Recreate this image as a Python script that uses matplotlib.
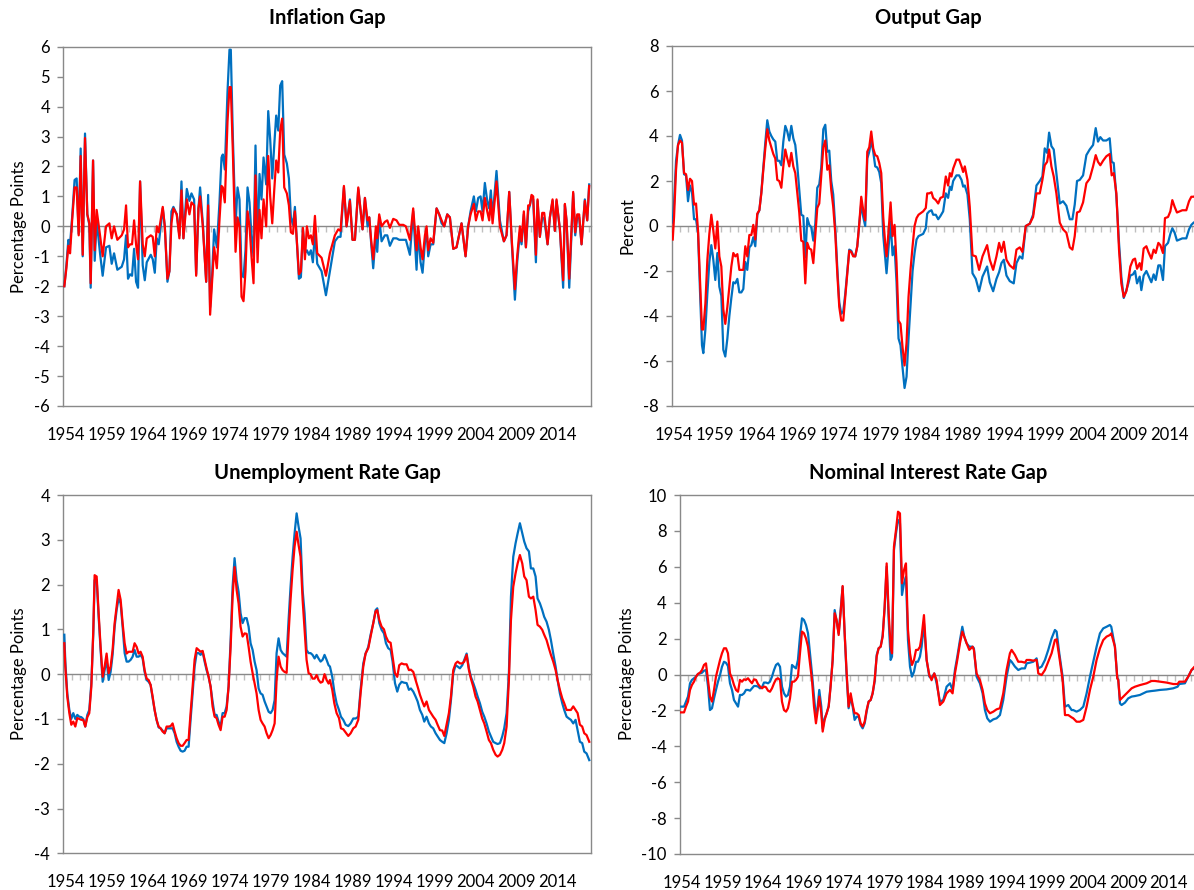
import matplotlib
matplotlib.use("Agg")
import matplotlib.pyplot as plt

plt.rcParams['font.family'] = ['Lato', 'DejaVu Sans']
plt.rcParams['axes.unicode_minus'] = False

# ---- data (dates in fractional years) ----
infl_t = [1954.00, 1954.25, 1954.49, 1954.70, 1954.95, 1955.25, 1955.50, 1955.75, 1955.99, 1956.24,
          1956.52, 1956.80, 1957.05, 1957.21, 1957.50, 1957.70, 1957.94, 1958.35, 1958.67, 1959.08,
          1959.49, 1959.77, 1960.06, 1960.46, 1960.99, 1961.28, 1961.52, 1961.76, 1962.01, 1962.25,
          1962.50, 1962.74, 1962.98, 1963.23, 1963.55, 1963.80, 1964.04, 1964.53, 1964.77, 1965.02,
          1965.26, 1965.50, 1965.99, 1966.24, 1966.56, 1966.80, 1967.05, 1967.29, 1967.70, 1968.02,
          1968.27, 1968.51, 1968.92, 1969.24, 1969.49, 1969.81, 1970.06, 1970.34, 1970.54, 1970.87,
          1971.28, 1971.52, 1971.76, 1972.01, 1972.25, 1972.58, 1972.90, 1973.15, 1973.31, 1973.55,
          1973.88, 1974.12, 1974.28, 1974.53, 1974.86, 1975.10, 1975.34, 1975.59, 1975.83, 1976.07,
          1976.32, 1976.56, 1976.80, 1977.05, 1977.29, 1977.54, 1977.78, 1978.02, 1978.27, 1978.59,
          1978.84, 1979.08, 1979.33, 1979.57, 1979.81, 1980.06, 1980.30, 1980.54, 1980.79, 1981.11,
          1981.36, 1981.60, 1981.85, 1982.09, 1982.33, 1982.58, 1982.82, 1983.07, 1983.31, 1983.55,
          1983.80, 1984.04, 1984.28, 1984.53, 1984.81, 1985.34, 1985.87, 1986.35, 1986.96, 1987.37,
          1987.65, 1988.06, 1988.38, 1988.79, 1989.11, 1989.40, 1989.81, 1990.33, 1990.62, 1990.94,
          1991.15, 1991.39, 1991.63, 1991.96, 1992.12, 1992.36, 1992.65, 1993.05, 1993.34, 1993.66,
          1994.07, 1994.47, 1994.80, 1995.29, 1995.61, 1996.10, 1996.50, 1996.91, 1997.11, 1997.40,
          1997.64, 1997.93, 1998.13, 1998.33, 1998.62, 1998.94, 1999.35, 1999.67, 1999.96, 2000.28,
          2000.65, 2000.97, 2001.38, 2001.78, 2002.39, 2002.88, 2003.20, 2003.49, 2003.89, 2004.14,
          2004.42, 2004.71, 2004.95, 2005.23, 2005.52, 2005.76, 2005.96, 2006.17, 2006.65, 2007.06,
          2007.55, 2007.87, 2008.20, 2008.52, 2008.89, 2009.17, 2009.50, 2009.70, 2009.98, 2010.23,
          2010.51, 2010.71, 2010.92, 2011.12, 2011.45, 2011.65, 2011.93, 2012.22, 2012.46, 2012.87,
          2013.15, 2013.48, 2013.76, 2013.96, 2014.37, 2014.77, 2014.98, 2015.18, 2015.51, 2015.99,
          2016.24, 2016.48, 2016.72, 2017.01, 2017.41, 2017.70, 2017.94]
infl_red = [-2.00, -1.40, -0.65, -0.90, 0.20, 1.30, 1.30, -0.30, 2.35, -0.95,
            2.95, 0.40, 0.10, -1.90, 2.20, -0.80, 0.55, -0.30, -1.00, 0.00,
            0.10, -0.40, 0.00, -0.45, -0.30, -0.10, 0.70, -0.70, -0.60, -0.60,
            0.20, -0.60, -1.10, 1.50, -0.60, -1.00, -0.40, -0.30, -0.35, -1.00,
            0.00, -0.20, 0.65, 0.00, -1.75, -1.50, 0.10, 0.60, 0.40, -0.40,
            1.20, -0.40, 0.90, 0.40, 0.80, 0.70, -1.65, 0.60, 1.00, 0.00,
            -1.85, 0.70, -2.95, -1.80, -0.70, -1.40, 0.20, 1.35, 1.30, 0.80,
            3.50, 4.65, 4.65, 2.50, -0.85, 0.30, 0.00, -2.35, -2.50, -1.50,
            0.50, 0.00, -1.00, -1.90, 1.70, -1.20, 0.55, -0.40, 0.90, 0.00,
            2.35, 1.00, 0.10, 1.20, 2.20, 1.80, 3.20, 3.60, 1.30, 1.10,
            0.70, -0.20, -0.25, 0.50, -0.50, -1.60, -1.50, -0.05, -1.10, 0.00,
            -0.40, -0.30, -0.60, 0.35, -0.90, -1.05, -1.65, -0.90, -0.30, -0.10,
            -0.15, 1.35, 0.00, 0.85, -0.45, -0.45, 1.30, -0.10, 0.95, 0.20,
            0.30, -0.50, -1.10, 0.00, -0.40, 0.40, 0.00, 0.15, 0.20, -0.05,
            0.25, 0.20, 0.05, 0.05, 0.00, -0.45, 0.60, -0.80, 0.00, -0.70,
            -1.10, -0.30, 0.00, -0.80, -0.40, -0.55, 0.60, 0.40, 0.20, 0.00,
            0.40, 0.30, -0.75, -0.70, 0.10, -1.00, 0.00, 0.40, 0.75, 0.20,
            0.50, 0.50, 0.20, 0.95, 0.50, 0.20, 0.90, 0.10, 1.50, 0.00,
            -0.50, -0.30, 1.15, -0.50, -2.10, -1.00, 0.00, -0.50, 0.50, -0.70,
            0.70, 0.70, 1.05, 1.00, -0.95, 0.90, -0.35, 0.45, 0.45, -0.60,
            0.30, 0.90, -0.15, 0.90, -0.10, -1.80, 0.75, 0.20, -1.75, 1.15,
            -0.20, 0.40, 0.40, -0.60, 0.85, 0.20, 1.35]
infl_blue = [-2.00, -1.30, -0.45, -0.60, 0.30, 1.55, 1.60, -0.25, 2.60, -1.00,
             3.10, 0.40, 0.05, -2.05, 2.20, -1.15, 0.20, -0.90, -1.65, -0.70,
             -0.65, -1.25, -0.90, -1.45, -1.35, -1.10, -0.30, -1.75, -1.60, -1.65,
             -0.75, -1.85, -2.05, 1.50, -1.30, -1.80, -1.20, -0.95, -1.10, -1.55,
             -0.40, -0.60, 0.60, 0.00, -1.85, -1.50, 0.50, 0.65, 0.40, -0.30,
             1.50, -0.40, 1.25, 0.85, 1.10, 0.90, -1.60, 0.60, 1.30, 0.10,
             -1.85, 1.05, -2.70, -1.60, -0.10, -0.70, 0.80, 2.30, 2.40, 1.90,
             4.50, 5.90, 5.90, 3.00, 0.00, 1.30, 0.90, -1.60, -1.70, -0.80,
             1.30, 0.80, -0.30, -1.00, 2.70, -0.70, 1.75, 0.90, 2.30, 1.40,
             3.85, 2.90, 1.60, 2.70, 3.70, 3.20, 4.70, 4.85, 2.40, 2.10,
             1.60, 0.30, 0.05, 0.65, -0.50, -1.75, -1.70, -0.10, -0.90, -0.80,
             -0.95, -0.80, -1.20, -0.20, -1.25, -1.50, -2.30, -1.50, -0.50, -0.35,
             -0.35, 1.30, 0.00, 0.90, -0.45, -0.45, 1.25, -0.10, 0.95, 0.00,
             0.30, -0.60, -1.40, -0.20, -0.85, 0.30, -0.50, -0.30, -0.30, -0.65,
             -0.40, -0.40, -0.45, -0.45, -0.45, -0.95, 0.50, -1.45, -0.15, -1.20,
             -1.55, -0.55, -0.10, -1.00, -0.60, -0.60, 0.60, 0.40, 0.10, 0.00,
             0.40, 0.30, -0.75, -0.70, 0.10, -1.00, 0.00, 0.50, 1.00, 0.50,
             0.95, 1.00, 0.50, 1.45, 0.85, 0.60, 1.20, 0.30, 1.85, 0.20,
             -0.50, -0.30, 1.15, -0.60, -2.45, -1.20, -0.20, -0.60, 0.40, -0.70,
             0.50, 0.70, 1.00, 0.90, -1.20, 0.85, -0.35, 0.30, 0.25, -0.60,
             0.30, 0.85, -0.15, 0.85, -0.10, -2.05, 0.70, 0.20, -2.05, 1.10,
             -0.30, 0.30, 0.30, -0.60, 0.90, 0.20, 1.40]

out_t = [1954.00, 1954.16, 1954.40, 1954.64, 1954.88, 1955.12, 1955.37, 1955.61, 1955.85, 1956.09,
         1956.33, 1956.58, 1956.82, 1957.06, 1957.30, 1957.54, 1957.70, 1957.95, 1958.19, 1958.43,
         1958.67, 1958.91, 1959.15, 1959.40, 1959.64, 1959.88, 1960.12, 1960.36, 1960.61, 1960.85,
         1961.09, 1961.33, 1961.57, 1961.82, 1962.06, 1962.30, 1962.54, 1962.78, 1963.02, 1963.27,
         1963.51, 1963.75, 1963.99, 1964.23, 1964.48, 1964.72, 1964.96, 1965.20, 1965.44, 1965.69,
         1965.93, 1966.17, 1966.41, 1966.65, 1966.89, 1967.14, 1967.38, 1967.62, 1967.86, 1968.10,
         1968.35, 1968.59, 1968.83, 1969.07, 1969.31, 1969.55, 1969.80, 1970.04, 1970.28, 1970.52,
         1970.76, 1971.01, 1971.25, 1971.49, 1971.73, 1971.97, 1972.22, 1972.46, 1972.70, 1972.94,
         1973.18, 1973.42, 1973.67, 1973.91, 1974.15, 1974.39, 1974.63, 1974.88, 1975.12, 1975.36,
         1975.60, 1975.84, 1976.08, 1976.33, 1976.57, 1976.81, 1977.05, 1977.29, 1977.54, 1977.78,
         1978.02, 1978.26, 1978.50, 1978.75, 1978.99, 1979.23, 1979.47, 1979.71, 1979.87, 1980.12,
         1980.36, 1980.60, 1980.84, 1981.08, 1981.32, 1981.56, 1981.81, 1982.05, 1982.29, 1982.53,
         1982.77, 1983.02, 1983.26, 1983.50, 1983.74, 1984.30, 1984.62, 1984.79, 1985.03, 1985.31,
         1985.51, 1985.83, 1986.12, 1986.40, 1986.72, 1987.04, 1987.32, 1987.53, 1987.73, 1987.93,
         1988.33, 1988.65, 1988.94, 1989.14, 1989.34, 1989.66, 1989.94, 1990.27, 1990.67, 1991.07,
         1991.48, 1992.04, 1992.36, 1992.77, 1993.17, 1993.49, 1993.77, 1994.06, 1994.38, 1994.78,
         1995.26, 1995.59, 1995.99, 1996.31, 1996.72, 1997.20, 1997.60, 1998.01, 1998.41, 1998.73,
         1999.01, 1999.30, 1999.54, 1999.82, 2000.10, 2000.42, 2000.83, 2001.23, 2001.63, 2002.04,
         2002.36, 2002.64, 2002.92, 2003.25, 2003.65, 2004.05, 2004.45, 2004.86, 2005.18, 2005.46,
         2005.74, 2006.07, 2006.47, 2006.87, 2007.11, 2007.36, 2007.68, 2008.00, 2008.28, 2008.57,
         2008.89, 2009.13, 2009.37, 2009.69, 2009.94, 2010.18, 2010.50, 2010.70, 2010.98, 2011.31,
         2011.55, 2011.91, 2012.19, 2012.44, 2012.76, 2013.00, 2013.32, 2013.56, 2013.93, 2014.21,
         2014.45, 2014.73, 2015.01, 2015.34, 2015.66, 2016.14, 2016.47, 2016.75, 2017.03, 2017.25]
out_red = [-0.60, 0.40, 2.50, 3.60, 3.80, 3.70, 2.35, 2.30, 1.60, 2.10,
           2.00, 0.95, 1.00, -0.20, -2.40, -4.60, -4.60, -3.45, -1.50, -0.35,
           0.50, -0.20, -1.00, 0.20, -1.35, -1.80, -3.70, -4.35, -3.60, -2.70,
           -1.80, -1.20, -1.35, -1.25, -1.95, -1.95, -1.95, -0.90, -1.35, -0.40,
           -0.40, 0.05, -0.60, 0.55, 0.70, 1.45, 2.50, 3.45, 4.30, 3.80,
           3.50, 3.20, 3.00, 2.05, 2.00, 1.70, 2.65, 3.40, 3.00, 2.65,
           3.25, 2.65, 2.35, 1.45, 0.60, -0.65, -0.70, -2.55, -0.75, -1.00,
           -1.05, -1.65, -0.45, 0.80, 1.00, 2.20, 3.50, 3.80, 2.50, 2.70,
           1.60, 0.85, -0.35, -2.10, -3.60, -4.20, -4.20, -3.15, -2.10, -1.10,
           -1.15, -1.35, -1.35, -0.90, 0.10, 1.30, 0.70, 0.25, 3.30, 3.50,
           4.20, 3.45, 3.15, 3.10, 2.80, 2.35, 0.40, -0.80, -1.35, -0.20,
           1.05, -0.45, 0.05, -1.65, -4.20, -4.35, -5.40, -6.20, -5.20, -3.15,
           -1.95, -0.90, 0.00, 0.35, 0.50, 0.65, 0.80, 1.45, 1.45, 1.50,
           1.25, 1.15, 1.00, 1.25, 1.30, 2.20, 1.80, 2.35, 2.20, 2.55,
           2.95, 2.95, 2.65, 2.40, 2.65, 2.05, 0.85, -1.30, -1.35, -1.95,
           -1.35, -0.85, -1.50, -1.95, -1.35, -0.75, -1.15, -0.70, -1.50, -1.75,
           -1.90, -1.05, -0.95, -1.15, 0.00, 0.10, 0.40, 1.45, 1.45, 2.05,
           2.70, 2.85, 3.40, 2.65, 2.20, 1.45, 0.15, -0.15, -0.30, -0.95,
           -1.05, -0.45, 0.60, 0.65, 1.05, 1.90, 2.10, 2.65, 3.15, 2.85,
           2.70, 2.90, 3.10, 3.20, 2.25, 2.35, 1.45, -1.05, -2.55, -3.15,
           -2.90, -2.40, -1.80, -1.50, -1.45, -1.90, -1.65, -1.95, -1.00, -0.90,
           -1.15, -1.45, -1.05, -1.20, -0.75, -0.85, -1.20, 0.35, 0.40, 0.65,
           1.15, 0.85, 0.60, 0.65, 0.70, 0.70, 1.10, 1.30, 1.30, 1.35]
out_blue = [0.15, 1.00, 2.90, 3.60, 4.05, 3.80, 2.30, 2.25, 1.10, 1.80,
            1.50, 0.30, 0.30, -0.30, -2.90, -5.30, -5.65, -4.60, -3.00, -1.60,
            -0.85, -1.50, -2.40, -1.20, -2.70, -3.10, -5.50, -5.80, -5.00, -4.00,
            -3.20, -2.50, -2.55, -2.35, -2.95, -2.95, -2.80, -1.60, -1.95, -0.95,
            -0.85, -0.50, -0.90, 0.50, 0.70, 1.50, 2.60, 3.70, 4.70, 4.20,
            4.00, 3.85, 3.75, 2.90, 2.90, 2.70, 3.75, 4.45, 4.20, 3.80,
            4.45, 3.90, 3.60, 2.70, 1.60, 0.50, 0.45, -1.40, 0.35, 0.05,
            -0.05, -0.65, 0.10, 1.70, 1.85, 2.60, 4.30, 4.50, 3.30, 3.35,
            2.00, 1.40, -0.10, -1.85, -3.40, -3.90, -3.80, -3.00, -2.00, -1.05,
            -1.10, -1.30, -1.35, -0.90, 0.10, 1.00, 0.40, 0.00, 3.00, 3.30,
            3.80, 3.30, 2.65, 2.60, 2.40, 1.90, -0.40, -1.45, -2.10, -0.90,
            0.20, -1.30, -0.90, -2.50, -5.00, -5.30, -6.30, -7.20, -6.70, -5.00,
            -3.50, -2.00, -1.20, -0.60, -0.45, -0.35, -0.10, 0.55, 0.65, 0.70,
            0.50, 0.50, 0.30, 0.45, 0.65, 1.45, 1.25, 1.75, 1.60, 2.00,
            2.25, 2.25, 2.05, 1.75, 1.80, 1.40, 0.30, -2.10, -2.35, -2.90,
            -2.25, -1.80, -2.50, -2.90, -2.35, -2.05, -1.65, -1.50, -2.20, -2.45,
            -2.55, -1.65, -1.35, -1.45, 0.00, 0.10, 0.50, 1.80, 2.00, 2.20,
            3.45, 3.25, 4.15, 3.55, 3.40, 2.35, 1.00, 1.10, 0.90, 0.30,
            0.30, 0.95, 2.00, 2.05, 2.25, 3.15, 3.40, 3.60, 4.35, 3.75,
            3.95, 3.80, 3.80, 3.90, 2.85, 2.80, 1.30, -0.75, -2.25, -3.20,
            -2.85, -2.55, -2.20, -2.15, -2.00, -2.55, -2.25, -2.85, -2.20, -2.00,
            -2.20, -2.50, -2.15, -2.40, -1.75, -1.75, -2.40, -0.90, -0.75, -0.35,
            -0.10, -0.30, -0.65, -0.60, -0.55, -0.55, -0.15, 0.05, 0.15, 0.20]

unemp_t = [1954.00, 1954.12, 1954.36, 1954.61, 1954.85, 1955.09, 1955.34, 1955.58, 1955.82, 1956.07,
           1956.31, 1956.55, 1956.80, 1957.04, 1957.29, 1957.53, 1957.69, 1957.94, 1958.18, 1958.42,
           1958.67, 1958.91, 1959.15, 1959.40, 1959.64, 1959.88, 1960.13, 1960.37, 1960.61, 1960.86,
           1961.10, 1961.35, 1961.59, 1961.83, 1962.08, 1962.32, 1962.56, 1962.81, 1963.05, 1963.29,
           1963.54, 1963.78, 1964.03, 1964.27, 1964.51, 1964.76, 1965.00, 1965.24, 1965.49, 1965.73,
           1965.97, 1966.22, 1966.46, 1966.70, 1966.95, 1967.19, 1967.44, 1967.68, 1967.92, 1968.17,
           1968.41, 1968.65, 1968.90, 1969.14, 1969.38, 1969.63, 1969.87, 1970.12, 1970.36, 1970.60,
           1970.85, 1971.09, 1971.33, 1971.58, 1971.82, 1972.06, 1972.31, 1972.55, 1972.79, 1973.04,
           1973.28, 1973.53, 1973.77, 1974.01, 1974.26, 1974.50, 1974.74, 1974.99, 1975.23, 1975.47,
           1975.72, 1975.96, 1976.21, 1976.45, 1976.69, 1976.94, 1977.18, 1977.42, 1977.67, 1977.91,
           1978.15, 1978.40, 1978.64, 1978.89, 1979.13, 1979.37, 1979.62, 1979.86, 1980.10, 1980.35,
           1980.59, 1980.83, 1981.08, 1981.32, 1981.56, 1981.81, 1982.05, 1982.30, 1982.54, 1982.78,
           1983.03, 1983.27, 1983.51, 1983.76, 1984.00, 1984.24, 1984.49, 1984.73, 1984.97, 1985.22,
           1985.46, 1985.70, 1985.95, 1986.19, 1986.36, 1986.64, 1986.89, 1987.17, 1987.46, 1987.70,
           1987.98, 1988.27, 1988.59, 1988.88, 1989.20, 1989.49, 1989.81, 1990.09, 1990.42, 1990.70,
           1991.03, 1991.31, 1991.64, 1991.92, 1992.12, 1992.37, 1992.65, 1992.94, 1993.18, 1993.46,
           1993.75, 1993.99, 1994.28, 1994.56, 1994.80, 1995.09, 1995.37, 1995.70, 1995.98, 1996.22,
           1996.51, 1996.79, 1997.04, 1997.32, 1997.61, 1997.85, 1998.13, 1998.42, 1998.66, 1998.94,
           1999.23, 1999.47, 1999.76, 2000.04, 2000.29, 2000.57, 2000.85, 2001.10, 2001.38, 2001.67,
           2001.91, 2002.19, 2002.48, 2002.72, 2003.01, 2003.29, 2003.53, 2003.82, 2004.10, 2004.35,
           2004.63, 2004.91, 2005.16, 2005.44, 2005.72, 2005.97, 2006.25, 2006.54, 2006.78, 2007.07,
           2007.35, 2007.59, 2007.88, 2008.16, 2008.41, 2008.69, 2008.97, 2009.22, 2009.50, 2009.79,
           2010.03, 2010.31, 2010.60, 2010.84, 2011.13, 2011.41, 2011.65, 2011.94, 2012.22, 2012.46,
           2012.75, 2013.03, 2013.28, 2013.56, 2013.85, 2014.09, 2014.37, 2014.66, 2014.90, 2015.19,
           2015.47, 2015.71, 2016.00, 2016.28, 2016.53, 2016.81, 2017.09, 2017.34, 2017.62, 2017.95]
unemp_red = [0.69, 0.17, -0.50, -0.87, -1.13, -1.06, -1.17, -0.98, -1.00, -1.02,
             -1.02, -1.17, -0.96, -0.87, -0.28, 0.99, 2.21, 2.18, 1.36, 0.61,
             -0.06, 0.17, 0.46, 0.02, 0.17, 0.54, 1.14, 1.51, 1.88, 1.66,
             1.14, 0.69, 0.46, 0.50, 0.50, 0.50, 0.69, 0.61, 0.46, 0.50,
             0.39, 0.09, -0.10, -0.13, -0.24, -0.50, -0.80, -1.02, -1.17, -1.21,
             -1.28, -1.32, -1.17, -1.17, -1.16, -1.10, -1.28, -1.43, -1.54, -1.60,
             -1.60, -1.54, -1.47, -1.47, -0.87, -0.28, 0.32, 0.58, 0.54, 0.50,
             0.52, 0.32, 0.13, -0.06, -0.28, -0.72, -0.95, -0.98, -1.13, -1.25,
             -0.95, -0.95, -0.80, -0.28, 0.61, 1.73, 2.39, 1.88, 1.58, 1.06,
             0.84, 0.91, 0.90, 0.61, 0.28, 0.02, -0.20, -0.43, -0.80, -1.02,
             -1.10, -1.17, -1.32, -1.43, -1.36, -1.25, -1.10, -0.13, 0.39, 0.17,
             0.09, 0.05, 0.03, 0.91, 1.66, 2.33, 2.85, 3.18, 2.88, 2.62,
             1.66, 0.99, 0.32, 0.02, 0.00, -0.10, -0.10, -0.02, -0.13, -0.19,
             -0.17, 0.00, -0.13, -0.21, -0.13, -0.35, -0.65, -0.87, -0.98, -1.21,
             -1.23, -1.30, -1.38, -1.32, -1.21, -1.17, -1.02, -0.43, 0.17, 0.46,
             0.58, 0.84, 1.14, 1.40, 1.43, 1.21, 1.06, 1.00, 0.84, 0.73,
             0.70, 0.39, 0.02, -0.06, 0.20, 0.24, 0.22, 0.22, 0.09, 0.10,
             0.05, -0.13, -0.28, -0.46, -0.61, -0.72, -0.61, -0.80, -0.87, -0.95,
             -1.02, -1.13, -1.25, -1.26, -1.38, -1.13, -0.87, -0.50, 0.09, 0.24,
             0.28, 0.24, 0.24, 0.28, 0.43, 0.09, -0.10, -0.28, -0.50, -0.61,
             -0.80, -0.99, -1.10, -1.28, -1.47, -1.54, -1.69, -1.80, -1.84, -1.80,
             -1.69, -1.54, -1.17, -0.13, 1.21, 1.95, 2.25, 2.47, 2.66, 2.47,
             2.18, 2.10, 1.73, 1.69, 1.73, 1.43, 1.10, 1.06, 0.99, 0.88,
             0.76, 0.58, 0.43, 0.28, 0.09, -0.13, -0.35, -0.54, -0.65, -0.80,
             -0.80, -0.80, -0.72, -0.80, -0.87, -1.13, -1.17, -1.32, -1.36, -1.51]
unemp_blue = [0.88, 0.28, -0.43, -0.80, -1.00, -0.87, -1.00, -0.91, -0.95, -0.96,
              -1.00, -1.17, -0.91, -0.80, -0.20, 0.91, 2.10, 2.10, 1.28, 0.54,
              -0.17, 0.09, 0.32, -0.13, 0.05, 0.43, 1.06, 1.43, 1.69, 1.58,
              1.06, 0.47, 0.28, 0.28, 0.32, 0.39, 0.54, 0.39, 0.39, 0.43,
              0.35, 0.05, -0.13, -0.17, -0.24, -0.54, -0.80, -1.02, -1.19, -1.21,
              -1.26, -1.32, -1.21, -1.21, -1.21, -1.21, -1.32, -1.51, -1.62, -1.71,
              -1.73, -1.71, -1.62, -1.62, -1.02, -0.43, 0.17, 0.47, 0.47, 0.43,
              0.50, 0.28, 0.09, -0.06, -0.28, -0.61, -0.91, -0.91, -1.06, -1.17,
              -0.87, -0.87, -0.72, -0.28, 0.76, 1.95, 2.59, 2.10, 1.84, 1.36,
              1.14, 1.25, 1.25, 1.06, 0.69, 0.54, 0.28, 0.09, -0.32, -0.43,
              -0.46, -0.61, -0.72, -0.84, -0.87, -0.80, -0.58, 0.47, 0.80, 0.54,
              0.47, 0.43, 0.39, 1.21, 1.95, 2.62, 3.14, 3.59, 3.29, 3.03,
              1.88, 1.36, 0.54, 0.47, 0.47, 0.43, 0.35, 0.43, 0.35, 0.28,
              0.32, 0.43, 0.32, 0.20, 0.17, -0.06, -0.39, -0.65, -0.80, -0.95,
              -1.02, -1.13, -1.16, -1.10, -0.99, -0.99, -0.95, -0.35, 0.24, 0.46,
              0.61, 0.88, 1.14, 1.43, 1.47, 1.14, 0.99, 0.91, 0.69, 0.58,
              0.54, 0.28, -0.20, -0.39, -0.24, -0.17, -0.19, -0.20, -0.35, -0.32,
              -0.39, -0.50, -0.61, -0.80, -0.91, -1.06, -0.95, -1.10, -1.17, -1.21,
              -1.32, -1.39, -1.47, -1.51, -1.54, -1.32, -1.02, -0.58, 0.02, 0.20,
              0.17, 0.13, 0.20, 0.32, 0.46, 0.13, -0.06, -0.20, -0.35, -0.50,
              -0.65, -0.84, -0.95, -1.10, -1.28, -1.39, -1.51, -1.54, -1.56, -1.54,
              -1.39, -1.21, -0.87, 0.02, 1.73, 2.62, 2.92, 3.14, 3.37, 3.14,
              2.96, 2.81, 2.74, 2.36, 2.36, 2.18, 1.69, 1.58, 1.43, 1.28,
              1.17, 0.99, 0.76, 0.46, 0.17, -0.13, -0.43, -0.65, -0.80, -0.95,
              -0.99, -1.02, -1.10, -1.02, -1.25, -1.51, -1.54, -1.73, -1.77, -1.92]

rate_t = [1954.00, 1954.37, 1954.61, 1954.86, 1955.11, 1955.35, 1955.60, 1955.85, 1956.09, 1956.34,
          1956.59, 1956.83, 1957.08, 1957.33, 1957.57, 1957.82, 1958.07, 1958.31, 1958.56, 1958.81,
          1959.05, 1959.30, 1959.55, 1959.79, 1960.04, 1960.29, 1960.53, 1960.78, 1961.03, 1961.27,
          1961.52, 1961.77, 1962.01, 1962.26, 1962.51, 1962.75, 1963.00, 1963.25, 1963.49, 1963.74,
          1963.99, 1964.23, 1964.48, 1964.73, 1964.97, 1965.22, 1965.47, 1965.71, 1965.96, 1966.21,
          1966.45, 1966.70, 1966.95, 1967.19, 1967.44, 1967.69, 1967.93, 1968.18, 1968.42, 1968.67,
          1968.92, 1969.16, 1969.41, 1969.66, 1969.90, 1970.15, 1970.40, 1970.64, 1970.81, 1971.05,
          1971.30, 1971.47, 1971.71, 1971.96, 1972.21, 1972.45, 1972.70, 1972.95, 1973.19, 1973.44,
          1973.68, 1973.93, 1974.18, 1974.43, 1974.67, 1974.92, 1975.17, 1975.41, 1975.66, 1975.91,
          1976.15, 1976.40, 1976.65, 1976.89, 1977.14, 1977.39, 1977.63, 1977.88, 1978.13, 1978.37,
          1978.62, 1978.87, 1979.11, 1979.36, 1979.61, 1979.85, 1980.02, 1980.26, 1980.51, 1980.76,
          1981.00, 1981.25, 1981.50, 1981.74, 1981.99, 1982.24, 1982.48, 1982.73, 1982.98, 1983.22,
          1983.47, 1983.67, 1983.96, 1984.29, 1984.62, 1984.90, 1985.23, 1985.52, 1985.93, 1986.34,
          1986.75, 1987.17, 1987.49, 1987.78, 1988.07, 1988.40, 1988.69, 1988.93, 1989.22, 1989.55,
          1989.96, 1990.12, 1990.45, 1990.86, 1991.19, 1991.48, 1991.77, 1992.10, 1992.51, 1992.92,
          1993.33, 1993.74, 1994.15, 1994.56, 1994.77, 1995.18, 1995.59, 1996.00, 1996.41, 1996.62,
          1997.03, 1997.44, 1997.85, 1998.06, 1998.47, 1998.88, 1999.29, 1999.70, 2000.11, 2000.32,
          2000.65, 2001.06, 2001.35, 2001.76, 2002.17, 2002.37, 2002.78, 2003.19, 2003.61, 2004.02,
          2004.43, 2004.84, 2005.25, 2005.66, 2006.07, 2006.48, 2006.89, 2007.06, 2007.51, 2007.80,
          2007.92, 2008.13, 2008.33, 2008.74, 2009.15, 2009.57, 2009.98, 2010.59, 2011.42, 2012.03,
          2012.44, 2013.06, 2013.88, 2014.70, 2015.24, 2015.44, 2016.14, 2016.55, 2016.96, 2017.25]
rate_red = [-2.11, -2.11, -1.79, -1.51, -0.86, -0.58, -0.40, -0.12, 0.03, 0.10,
            0.25, 0.53, 0.62, -0.30, -1.23, -1.51, -0.86, -0.12, 0.34, 0.81,
            1.18, 1.46, 1.46, 1.18, 0.06, -0.21, -0.58, -0.86, -0.96, -0.30,
            -0.40, -0.27, -0.30, -0.21, -0.36, -0.49, -0.27, -0.30, -0.53, -0.67,
            -0.77, -0.67, -0.71, -0.90, -0.96, -0.77, -0.49, -0.27, -0.21, -0.30,
            -1.51, -1.98, -2.07, -1.88, -1.33, -0.40, -0.40, -0.30, -0.12, 1.18,
            2.39, 2.30, 2.01, 1.55, 0.62, -0.30, -1.79, -2.72, -2.16, -1.23,
            -2.16, -3.18, -2.53, -2.16, -1.79, -0.67, 0.81, 3.41, 3.04, 2.20,
            3.41, 4.93, 2.30, 0.06, -1.79, -1.05, -1.70, -2.16, -2.16, -2.26,
            -2.72, -2.90, -2.63, -1.98, -1.51, -1.42, -1.05, -0.30, 1.00, 1.46,
            1.55, 2.11, 3.78, 6.19, 3.41, 1.55, 1.18, 7.12, 8.05, 9.07,
            8.98, 5.08, 5.82, 6.19, 2.48, 1.18, 0.53, 0.81, 1.37, 1.37,
            1.55, 2.11, 3.31, 0.81, -0.03, -0.31, 0.06, -0.31, -1.70, -1.51,
            -1.05, -0.86, -1.05, 0.06, 0.81, 1.74, 2.39, 2.11, 1.74, 1.37,
            1.55, 1.37, 0.06, -0.31, -0.86, -1.61, -1.98, -2.16, -2.07, -1.94,
            -1.88, -1.05, 0.25, 1.18, 1.37, 1.09, 0.71, 0.71, 0.66, 0.81,
            0.81, 0.77, 0.81, 0.06, -0.03, 0.25, 0.71, 1.18, 1.92, 1.96,
            0.99, -0.31, -2.26, -2.26, -2.39, -2.44, -2.63, -2.63, -2.53, -1.79,
            -0.86, -0.12, 0.81, 1.46, 1.92, 2.11, 2.20, 2.29, 1.55, -0.21,
            -0.31, -1.42, -1.33, -1.14, -0.96, -0.77, -0.68, -0.59, -0.49, -0.36,
            -0.36, -0.40, -0.45, -0.53, -0.53, -0.40, -0.40, -0.12, 0.25, 0.40]
rate_blue = [-1.79, -1.79, -1.51, -1.23, -0.49, -0.30, -0.21, -0.12, 0.03, 0.06,
             0.10, 0.21, 0.25, -0.67, -1.98, -1.88, -1.33, -0.86, -0.40, -0.03,
             0.43, 0.71, 0.65, 0.47, -0.49, -0.86, -1.42, -1.61, -1.79, -1.14,
             -1.14, -1.05, -0.86, -0.86, -0.90, -0.77, -0.64, -0.64, -0.67, -0.77,
             -0.71, -0.45, -0.45, -0.49, -0.40, -0.12, 0.25, 0.53, 0.62, 0.43,
             -0.67, -1.05, -1.23, -1.14, -0.67, 0.53, 0.43, 0.34, 0.81, 2.11,
             3.13, 3.04, 2.76, 2.30, 1.18, 0.06, -1.23, -2.35, -1.98, -0.86,
             -1.79, -3.00, -2.44, -2.16, -1.75, -0.58, 0.81, 3.59, 2.94, 2.30,
             3.59, 4.89, 2.30, -0.12, -1.88, -1.23, -1.79, -2.53, -2.35, -2.35,
             -2.81, -3.00, -2.72, -2.07, -1.51, -1.42, -1.05, -0.40, 1.09, 1.46,
             1.55, 2.20, 3.69, 6.01, 3.04, 0.81, 1.00, 6.94, 7.86, 8.61,
             8.42, 4.43, 5.08, 5.45, 1.92, 0.43, -0.12, 0.15, 0.71, 0.71,
             1.00, 1.55, 2.85, 0.81, -0.12, -0.21, 0.06, -0.49, -1.51, -1.42,
             -0.68, -0.49, -0.86, 0.25, 0.99, 1.92, 2.66, 2.11, 1.74, 1.55,
             1.55, 1.46, -0.12, -0.49, -1.05, -1.98, -2.44, -2.63, -2.50, -2.44,
             -2.26, -1.42, -0.12, 0.81, 0.71, 0.44, 0.25, 0.34, 0.34, 0.62,
             0.66, 0.71, 0.90, 0.34, 0.44, 0.81, 1.37, 2.01, 2.48, 2.39,
             1.18, -0.12, -1.79, -1.70, -1.98, -1.98, -2.07, -1.98, -1.79, -1.05,
             -0.12, 0.71, 1.55, 2.29, 2.57, 2.66, 2.76, 2.66, 1.55, -0.21,
             -0.27, -1.61, -1.70, -1.57, -1.33, -1.23, -1.20, -1.14, -0.96, -0.92,
             -0.90, -0.86, -0.83, -0.77, -0.68, -0.53, -0.49, -0.12, 0.25, 0.34]

label_years = list(range(1954, 2015, 5))

BLUE = '#0070C0'
RED = '#FF0000'
FRAME = '#898989'
TICKGRAY = '#BFBFBF'

W, H = 1194, 890
fig = plt.figure(figsize=(W / 100, H / 100), dpi=100)


def px_box(x0, y0, x1, y1):
    return [x0 / W, 1 - y1 / H, (x1 - x0) / W, (y1 - y0) / H]


def make_panel(box, t, blue, red, ylim, ystep):
    ax = fig.add_axes(px_box(*box))
    ax.plot(t, blue, color=BLUE, lw=1.6, zorder=3)
    ax.plot(t, red, color=RED, lw=1.6, zorder=4)
    ax.set_xlim(1953.875, 2018.125)
    ax.set_ylim(*ylim)
    yt = list(range(ylim[0], ylim[1] + 1, ystep))
    ax.set_yticks(yt)
    ax.set_yticklabels([str(v) for v in yt])
    ax.set_xticks([y + 0.125 for y in label_years])
    ax.set_xticklabels([str(y) for y in label_years])
    ax.tick_params(axis='x', length=0, pad=15, labelsize=12)
    ax.tick_params(axis='y', direction='out', length=4.5, width=1, color=FRAME,
                   pad=5, labelsize=12)
    for s in ax.spines.values():
        s.set_color(FRAME)
        s.set_linewidth(1)
    # zero line with yearly tick marks, like the Excel category axis
    sec = ax.secondary_xaxis(0.5)
    sec.set_alignment('bottom')
    sec.set_xticks([1953.875 + k for k in range(65)])
    sec.tick_params(axis='x', direction='out', length=4, width=1, color=TICKGRAY,
                    labelbottom=False, labeltop=False)
    sec.spines['bottom'].set_color(FRAME)
    sec.spines['bottom'].set_linewidth(1)
    return ax


make_panel((63.3, 46.7, 590.7, 406), infl_t, infl_blue, infl_red, (-6, 6), 1)
make_panel((671.7, 46, 1202.7, 406), out_t, out_blue, out_red, (-8, 8), 2)
make_panel((63.3, 495, 590.7, 853.3), unemp_t, unemp_blue, unemp_red, (-4, 4), 1)
make_panel((680, 495, 1201, 854), rate_t, rate_blue, rate_red, (-10, 10), 2)

titles = [("Inflation Gap", 327, 23.5), ("Output Gap", 928, 23.5),
          ("Unemployment Rate Gap", 327, 479), ("Nominal Interest Rate Gap", 928.5, 479)]
for txt, x, y in titles:
    fig.text(x / W, 1 - y / H, txt, ha='center', va='baseline', fontsize=14.5,
             fontweight='bold')

ylabels = [("Percentage Points", 19, 227), ("Percent", 627, 226),
           ("Percentage Points", 19, 674), ("Percentage Points", 627, 674)]
for txt, x, y in ylabels:
    fig.text(x / W, 1 - y / H, txt, ha='center', va='center', rotation=90, fontsize=12)

fig.savefig("out.png", dpi=100)
